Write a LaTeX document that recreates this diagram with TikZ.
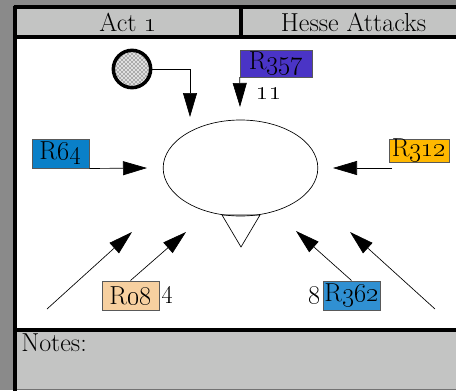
\RequirePackage{fix-cm}
\documentclass[tikz,border=0pt]{standalone}
\usepackage{tikz}
\usetikzlibrary{arrows.meta,shapes.geometric,patterns}
\definecolor{framegray}{RGB}{138,138,138}
\definecolor{headgray}{RGB}{195,196,195}
\definecolor{rpurple}{RGB}{74,52,198}
\definecolor{rblue}{RGB}{10,128,200}
\definecolor{ramber}{RGB}{255,184,0}
\definecolor{rpeach}{RGB}{247,208,160}
\definecolor{rsky}{RGB}{48,144,210}
\newcommand{\osn}[1]{\oldstylenums{#1}}
\tikzset{unit tag/.style = {rectangle,draw=black!65,line width=0.5pt,inner sep=0pt},
  big arrow/.style = {-{Triangle[length=18pt,width=10.5pt]},line width=0.5pt},
  frame rule/.style = {line width=3pt}}

\begin{document}
\begin{tikzpicture}[x=0.75pt,y=-0.75pt,font=\fontsize{19.5}{23}\selectfont]
  \clip (0,0) rectangle (456,390);
  \fill[framegray] (0,0) rectangle (456,390);
  \fill[headgray] (15,7) rectangle (470,37);
  \fill[white] (15,37) rectangle (470,329.5);
  \fill[headgray] (15,329.5) rectangle (470,389);
  \draw[black!55] (15,389.5) -- (470,389.5);
  \draw[frame rule] (13.5,7) -- (470,7) (15,37) -- (470,37) (15,329.5) -- (470,329.5);
  \draw[frame rule] (15,5.5) -- (15,395) (241,7) -- (241,37);

  \node[anchor=base] (act) at (128,31.5) {Act \osn{1}};
  \node[anchor=base] (title) at (353.5,31.5) {Hesse Attacks};
  \node[anchor=base west,inner sep=0pt] (notes) at (21,351.5) {Notes:};

  % the bubble
  \draw[line width=0.5pt,fill=white] (222,215) -- (241,247) -- (260,215) -- cycle;
  \node[ellipse,draw,line width=0.5pt,minimum width=116pt,minimum height=72pt,inner sep=0pt] (hub) at (240.5,168) {};

  \node[circle,draw,line width=2.6pt,minimum size=28pt,inner sep=0pt,fill=gray!25,
        postaction={pattern=crosshatch dots,pattern color=black}] (fog) at (132,69) {};
  \node[unit tag,fill=rpurple,minimum width=54pt,minimum height=20pt] (r357) at (276,63.5) {R\osn{357}};
  \node[unit tag,fill=rblue,minimum width=43pt,minimum height=22pt] (r64) at (60.5,153.5) {R\osn{64}};
  \node[unit tag,fill=ramber,minimum width=45pt,minimum height=17pt] (r312) at (419,150.5) {R\osn{312}};
  \node[unit tag,fill=rpeach,minimum width=43pt,minimum height=22pt] (r08) at (130.5,295.5) {R\osn{08}};
  \node[unit tag,fill=rsky,minimum width=43pt,minimum height=22pt] (r362) at (351.5,295.5) {R\osn{362}};

  \node (r357n) at (269,94) {\osn{11}};
  \node[anchor=west,inner sep=1pt] (r08n) at (r08.east) {\osn{4}};
  \node[anchor=east,inner sep=1pt] (r362n) at (r362.west) {\osn{8}};

  \coordinate (fogtip) at (190,117);
  \coordinate (r357tip) at (240,107);
  \coordinate (r64tip) at (147,168);
  \coordinate (r312out) at (392,168);
  \coordinate (r312tip) at (333,168);
  \coordinate (r08tip) at (186,232);
  \coordinate (r362tip) at (296,231);
  \coordinate (swfoot) at (47,309);
  \coordinate (swtip) at (132,232);
  \coordinate (sefoot) at (435,309);
  \coordinate (setip) at (350,232);

  \draw[big arrow] (fog.east) -| (fogtip);
  \draw[big arrow] (r357.south west) -- (r357tip);
  \draw[big arrow] (r64.south east) -- (r64tip);
  \draw[big arrow] (r312out) -- (r312tip);
  \draw[big arrow] (r08.north) -- (r08tip);
  \draw[big arrow] (r362.north) -- (r362tip);
  \draw[big arrow] (swfoot) -- (swtip);
  \draw[big arrow] (sefoot) -- (setip);
\end{tikzpicture}
\end{document}
